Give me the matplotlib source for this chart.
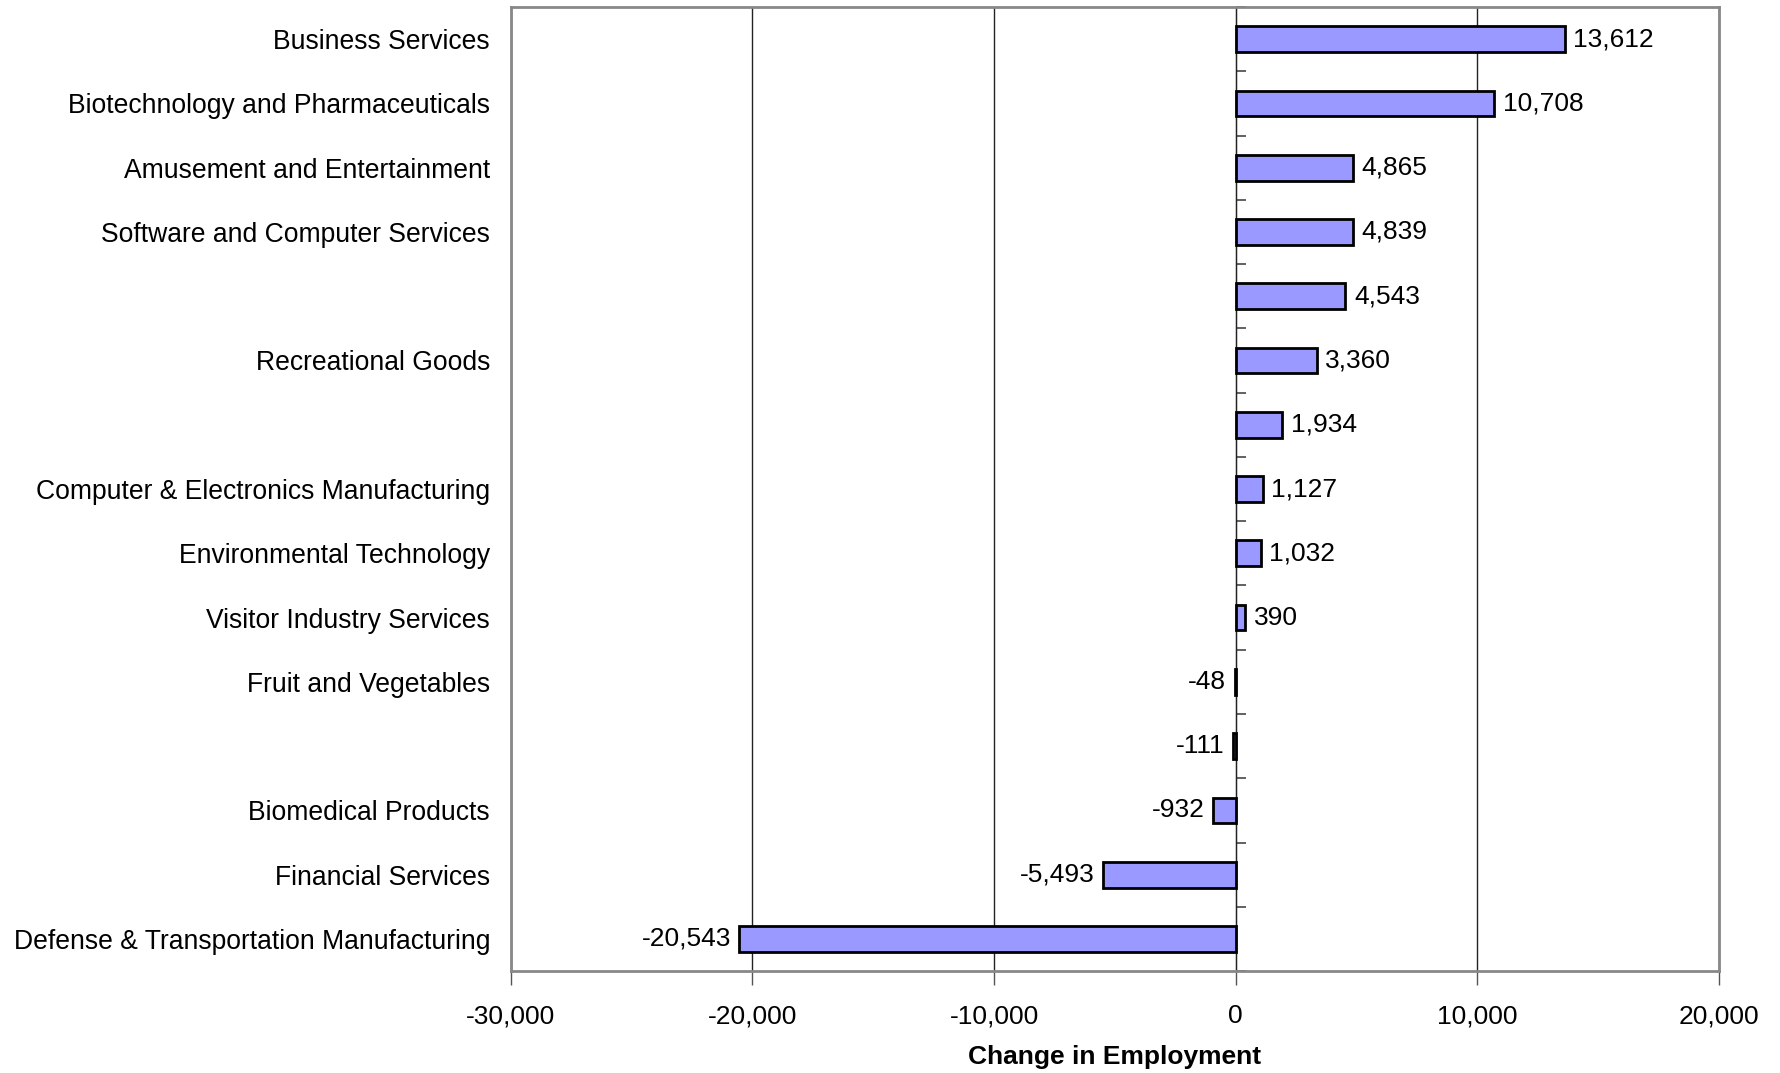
import numpy as np
import matplotlib.pyplot as plt
from matplotlib.ticker import FuncFormatter

plt.rcParams['font.family'] = ['Liberation Sans', 'DejaVu Sans']

# categories top -> bottom (some rows have no label in the source)
categories = ['Business Services', 'Biotechnology and Pharmaceuticals',
              'Amusement and Entertainment', 'Software and Computer Services',
              '', 'Recreational Goods', '', 'Computer & Electronics Manufacturing',
              'Environmental Technology', 'Visitor Industry Services',
              'Fruit and Vegetables', '', 'Biomedical Products',
              'Financial Services', 'Defense & Transportation Manufacturing']
changes = [13612, 10708, 4865, 4839, 4543, 3360, 1934, 1127, 1032, 390,
           -48, -111, -932, -5493, -20543]
x_ticks = [-30000, -20000, -10000, 0, 10000, 20000]

fig = plt.figure(figsize=(17.8, 10.73), dpi=100)
ax = fig.add_axes([0.287, 0.095, 0.6787, 0.8985])

n = len(categories)
y = np.arange(n)[::-1]
ax.barh(y, changes, height=0.4, color='#9999FF', edgecolor='black', linewidth=2, zorder=3)

for yi, v in zip(y, changes):
    txt = '{:,}'.format(v)
    if v >= 0:
        ax.text(v + 350, yi, txt, ha='left', va='center', fontsize=19)
    else:
        ax.text(v - 350, yi, txt, ha='right', va='center', fontsize=19)

ax.set_xlim(-30000, 20000)
ax.set_ylim(-0.5, n - 0.5)
ax.set_xticks(x_ticks)
ax.xaxis.set_major_formatter(FuncFormatter(lambda v, p: '{:,}'.format(int(v))))
ax.tick_params(axis='x', labelsize=19, length=10, width=1, color='#555555', pad=14)
ax.grid(axis='x', color='#222222', linewidth=1, zorder=0)

ax.set_yticks(y)
ax.set_yticklabels(categories, fontsize=19.1)
ax.tick_params(axis='y', length=0, pad=15)

for side in ['top', 'right', 'left', 'bottom']:
    ax.spines[side].set_color('#888888')
    ax.spines[side].set_linewidth(2)

# zero line with category separator ticks
sec = ax.secondary_yaxis(0.6)
sec.set_yticks(np.arange(n + 1) - 0.5)
sec.set_yticklabels([])
sec.tick_params(axis='y', length=7, width=1.3, color='#555555', direction='out')
sec.spines['left'].set_color('black')
sec.spines['left'].set_linewidth(1.2)

ax.set_xlabel('Change in Employment', fontsize=19, fontweight='bold', labelpad=12)

fig.savefig('out.png', dpi=100)
